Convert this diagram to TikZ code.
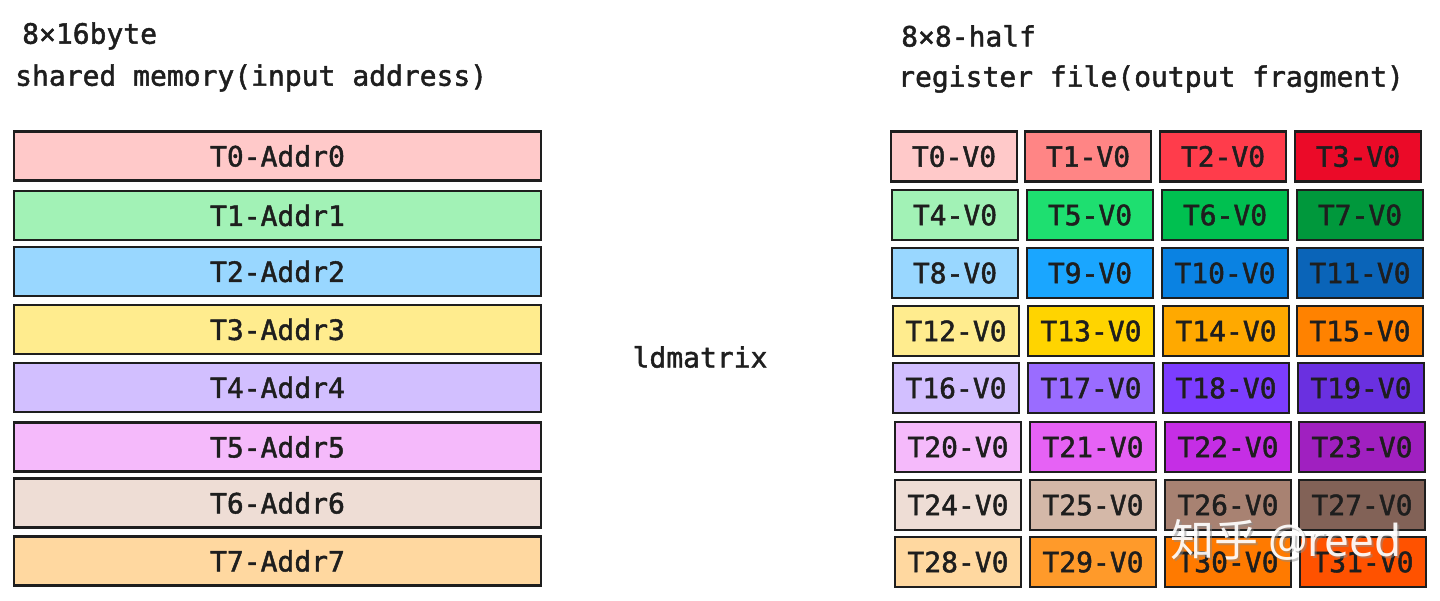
\documentclass[tikz,border=0pt]{standalone}
\usepackage{fontspec}
\setmainfont{DejaVu Sans Mono}[BoldFont={DejaVu Sans Mono},BoldFeatures={FakeBold=1.6}]
\newfontfamily\cjkfont{Noto Sans CJK SC}
\newfontfamily\wmfont{Noto Sans}
\definecolor{ink}{HTML}{1E1E1E}
% left
\definecolor{a0}{HTML}{FFC9C9}
\definecolor{a1}{HTML}{A2F2B6}
\definecolor{a2}{HTML}{99D7FF}
\definecolor{a3}{HTML}{FFEC8E}
\definecolor{a4}{HTML}{D2BFFF}
\definecolor{a5}{HTML}{F5BAFB}
\definecolor{a6}{HTML}{EEDDD5}
\definecolor{a7}{HTML}{FFD8A0}
% right
\definecolor{c1}{HTML}{FF8585}
\definecolor{c2}{HTML}{FF3C4B}
\definecolor{c3}{HTML}{EB0A28}
\definecolor{c5}{HTML}{1EDF70}
\definecolor{c6}{HTML}{00C050}
\definecolor{c7}{HTML}{00983C}
\definecolor{c9}{HTML}{1AA6FF}
\definecolor{c10}{HTML}{0A82E2}
\definecolor{c11}{HTML}{0A64B8}
\definecolor{c13}{HTML}{FFD400}
\definecolor{c14}{HTML}{FFA900}
\definecolor{c15}{HTML}{FF8200}
\definecolor{c17}{HTML}{9A6CFF}
\definecolor{c18}{HTML}{7C3DFF}
\definecolor{c19}{HTML}{6A30E0}
\definecolor{c21}{HTML}{E662F5}
\definecolor{c22}{HTML}{C52EE5}
\definecolor{c23}{HTML}{A020C0}
\definecolor{c25}{HTML}{D4B8A8}
\definecolor{c26}{HTML}{A88272}
\definecolor{c27}{HTML}{826257}
\definecolor{c29}{HTML}{FF9A2A}
\definecolor{c30}{HTML}{FF7A00}
\definecolor{c31}{HTML}{FF5200}
\tikzset{
  txt/.style={text=ink, font=\fontsize{28}{34}\selectfont\bfseries, inner sep=0pt},
  membox/.style={txt, draw=ink, line width=2.8pt, minimum width=527pt, minimum height=49pt},
  regbox/.style={txt, draw=ink, line width=2.8pt, minimum width=126pt, minimum height=50pt},
  head/.style={txt, anchor=west},
}
\begin{document}
\begin{tikzpicture}[x=1pt,y=-1pt]
\useasboundingbox[fill=white] (0,0) rectangle (1440,601);
% headers
\node[head] (h1) at (22,36) {8×16byte};
\node[head] (h2) at (15,78) {shared memory(input address)};
\node[head] (h3) at (901,36) {8×8-half};
\node[head] (h4) at (898,79) {register file(output fragment)};
\node[txt] (ld) at (700,357) {ldmatrix};
% left column
\node[membox, fill=a0] (m0) at (277.5,156) {T0-Addr0};
\node[membox, fill=a1] (m1) at (277.5,215.5) {T1-Addr1};
\node[membox, fill=a2] (m2) at (277.5,271.5) {T2-Addr2};
\node[membox, fill=a3] (m3) at (277.5,329.5) {T3-Addr3};
\node[membox, fill=a4] (m4) at (277.5,387.5) {T4-Addr4};
\node[membox, fill=a5] (m5) at (277.5,447) {T5-Addr5};
\node[membox, fill=a6] (m6) at (277.5,503) {T6-Addr6};
\node[membox, fill=a7] (m7) at (277.5,561) {T7-Addr7};
% right grid
\node[regbox, fill=a0]  (r0)  at (954,156.5) {T0-V0};
\node[regbox, fill=c1]  (r1)  at (1088,156.5) {T1-V0};
\node[regbox, fill=c2]  (r2)  at (1223,156.5) {T2-V0};
\node[regbox, fill=c3]  (r3)  at (1358,156.5) {T3-V0};
\node[regbox, fill=a1]  (r4)  at (955,215) {T4-V0};
\node[regbox, fill=c5]  (r5)  at (1090,215) {T5-V0};
\node[regbox, fill=c6]  (r6)  at (1225,215) {T6-V0};
\node[regbox, fill=c7]  (r7)  at (1360,215) {T7-V0};
\node[regbox, fill=a2]  (r8)  at (955,273) {T8-V0};
\node[regbox, fill=c9]  (r9)  at (1090,273) {T9-V0};
\node[regbox, fill=c10] (r10) at (1225,273) {T10-V0};
\node[regbox, fill=c11] (r11) at (1360,273) {T11-V0};
\node[regbox, fill=a3]  (r12) at (956,331) {T12-V0};
\node[regbox, fill=c13] (r13) at (1091,331) {T13-V0};
\node[regbox, fill=c14] (r14) at (1226,331) {T14-V0};
\node[regbox, fill=c15] (r15) at (1360,331) {T15-V0};
\node[regbox, fill=a4]  (r16) at (956,388) {T16-V0};
\node[regbox, fill=c17] (r17) at (1091,388) {T17-V0};
\node[regbox, fill=c18] (r18) at (1226,388) {T18-V0};
\node[regbox, fill=c19] (r19) at (1361,388) {T19-V0};
\node[regbox, fill=a5]  (r20) at (958,447) {T20-V0};
\node[regbox, fill=c21] (r21) at (1093,447) {T21-V0};
\node[regbox, fill=c22] (r22) at (1228,447) {T22-V0};
\node[regbox, fill=c23] (r23) at (1362,447) {T23-V0};
\node[regbox, fill=a6]  (r24) at (958,505) {T24-V0};
\node[regbox, fill=c25] (r25) at (1093,505) {T25-V0};
\node[regbox, fill=c26] (r26) at (1228,505) {T26-V0};
\node[regbox, fill=c27] (r27) at (1362,505) {T27-V0};
\node[regbox, fill=a7]  (r28) at (958,562) {T28-V0};
\node[regbox, fill=c29] (r29) at (1093,562) {T29-V0};
\node[regbox, fill=c30] (r30) at (1228,562) {T30-V0};
\node[regbox, fill=c31] (r31) at (1363,562) {T31-V0};
% watermark
\node[anchor=west, inner sep=0pt, text=black!45, opacity=0.5, font=\fontsize{44}{48}\selectfont] (wms) at (1172,542) {\cjkfont 知乎\ \wmfont @reed};
\node[anchor=west, inner sep=0pt, text=white, opacity=0.92, font=\fontsize{44}{48}\selectfont] (wm) at (1170,540) {\cjkfont 知乎\ \wmfont @reed};
\end{tikzpicture}
\end{document}
